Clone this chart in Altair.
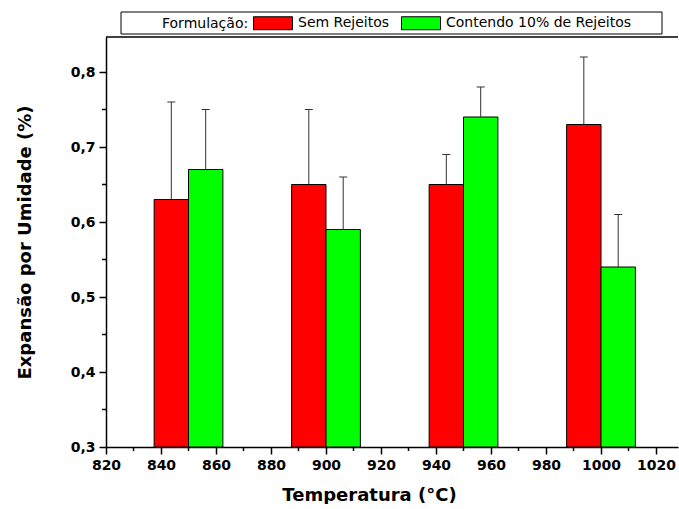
import altair as alt
import pandas as pd

# ---- data ----
temperatures = [850, 900, 950, 1000]
series_names = ["Sem Rejeitos", "Contendo 10% de Rejeitos"]
sem_values = [0.63, 0.65, 0.65, 0.73]
sem_upper = [0.76, 0.75, 0.69, 0.82]
com_values = [0.67, 0.59, 0.74, 0.54]
com_upper = [0.75, 0.66, 0.78, 0.61]
series_colors = ["#ff0000", "#00ff00"]

x_major = [820, 840, 860, 880, 900, 920, 940, 960, 980, 1000, 1020]
x_minor = [830, 850, 870, 890, 910, 930, 950, 970, 990, 1010]
y_major = [0.3, 0.4, 0.5, 0.6, 0.7, 0.8]
y_minor = [0.35, 0.45, 0.55, 0.65, 0.75]

# ---- style / layout ----
BAR_W = 12.5
CAP = 1.45
W, H = 572, 410
X_MIN, X_MAX = 820, 820 + W / 2.75
Y_MIN, Y_MAX = 0.3, 0.3 + H / 750
FONT = "DejaVu Sans"
MAJOR_T, MINOR_T = 7, 4

rows = []
for i, t in enumerate(temperatures):
    rows.append(dict(temp=t, serie=series_names[0], k=0, value=sem_values[i], upper=sem_upper[i]))
    rows.append(dict(temp=t, serie=series_names[1], k=1, value=com_values[i], upper=com_upper[i]))
df = pd.DataFrame(rows)

xscale = alt.Scale(domain=[X_MIN, X_MAX], nice=False, zero=False)
yscale = alt.Scale(domain=[Y_MIN, Y_MAX], nice=False, zero=False)

x_axis = alt.Axis(
    values=x_major, format="d", tickSize=MAJOR_T, labelPadding=4,
    labelFlush=False, labelOverlap=False,
    title="Temperatura (°C)", titlePadding=14, titleX=263, orient="bottom",
)
y_axis = alt.Axis(
    values=y_major, tickSize=MAJOR_T, labelPadding=4,
    labelFlush=False, labelOverlap=False,
    labelExpr="replace(format(datum.value, '.1f'), '.', ',')",
    title="Expansão por Umidade (%)", titlePadding=36, orient="left",
)

base = alt.Chart(df).transform_calculate(
    x0=f"datum.temp + (datum.k - 1) * {BAR_W}",
    x1=f"datum.temp + datum.k * {BAR_W}",
    xc=f"datum.temp + (datum.k - 0.5) * {BAR_W}",
)

bars = base.mark_bar(stroke="black", strokeWidth=1, opacity=1).encode(
    x=alt.X("x0:Q", scale=xscale, axis=x_axis),
    x2="x1:Q",
    y=alt.Y("value:Q", scale=yscale, axis=y_axis),
    y2=alt.datum(Y_MIN),
    color=alt.Color(
        "serie:N",
        scale=alt.Scale(domain=series_names, range=series_colors),
        legend=alt.Legend(
            title="Formulação:", orient="none", legendX=56, legendY=-21,
            direction="horizontal", titleOrient="left",
        ),
    ),
)

err = base.mark_rule(color="#333", strokeWidth=1).encode(
    x=alt.X("xc:Q", scale=xscale),
    y=alt.Y("value:Q", scale=yscale),
    y2="upper:Q",
)

caps = base.transform_calculate(
    cl=f"datum.xc - {CAP}", cr=f"datum.xc + {CAP}"
).mark_rule(color="#333", strokeWidth=1).encode(
    x=alt.X("cl:Q", scale=xscale),
    x2="cr:Q",
    y=alt.Y("upper:Q", scale=yscale),
)

# minor ticks on both axes, placed through the scales
x_minor_ticks = alt.Chart(pd.DataFrame({"v": x_minor})).mark_rule(
    color="black", strokeWidth=1.5
).encode(
    x=alt.X("v:Q", scale=xscale),
    y=alt.value(H), y2=alt.value(H + MINOR_T),
)
y_minor_ticks = alt.Chart(pd.DataFrame({"v": y_minor})).mark_rule(
    color="black", strokeWidth=1.5
).encode(
    y=alt.Y("v:Q", scale=yscale),
    x=alt.value(0), x2=alt.value(-MINOR_T),
)

one = alt.Data(values=[{"a": 1}])
top_line = alt.Chart(one).mark_rule(color="black", strokeWidth=1.5).encode(
    x=alt.value(0), x2=alt.value(W), y=alt.value(0)
)
legend_box = alt.Chart(one).mark_rect(fill="white", stroke="black", strokeWidth=1).encode(
    x=alt.value(15), x2=alt.value(556), y=alt.value(-25), y2=alt.value(-3)
)

chart = alt.layer(
    legend_box, bars, err, caps, x_minor_ticks, y_minor_ticks, top_line
).properties(
    width=W, height=H,
    padding={"left": 16, "top": 11, "right": 0, "bottom": 0},
).configure_view(stroke=None).configure_axis(
    grid=False, domainColor="black", domainWidth=1.5, tickColor="black", tickWidth=1.5,
    labelFont=FONT, labelFontSize=14, labelFontWeight="bold", labelColor="black",
    titleFont=FONT, titleFontSize=18, titleFontWeight="bold", titleColor="black",
).configure_legend(
    titleFont=FONT, titleFontSize=14, titleFontWeight="normal", titleColor="black",
    labelFont=FONT, labelFontSize=14, labelColor="black", labelLimit=0,
    symbolType="M-1,-1H5V1H-1Z", symbolSize=169,
    symbolStrokeColor="black", symbolStrokeWidth=1, symbolOpacity=1,
    columnPadding=9, labelOffset=31, titlePadding=4,
    titleAnchor="middle", titleBaseline="middle",
    padding=0,
)

chart.save("out.html", embed_options={"renderer": "svg", "actions": False})
